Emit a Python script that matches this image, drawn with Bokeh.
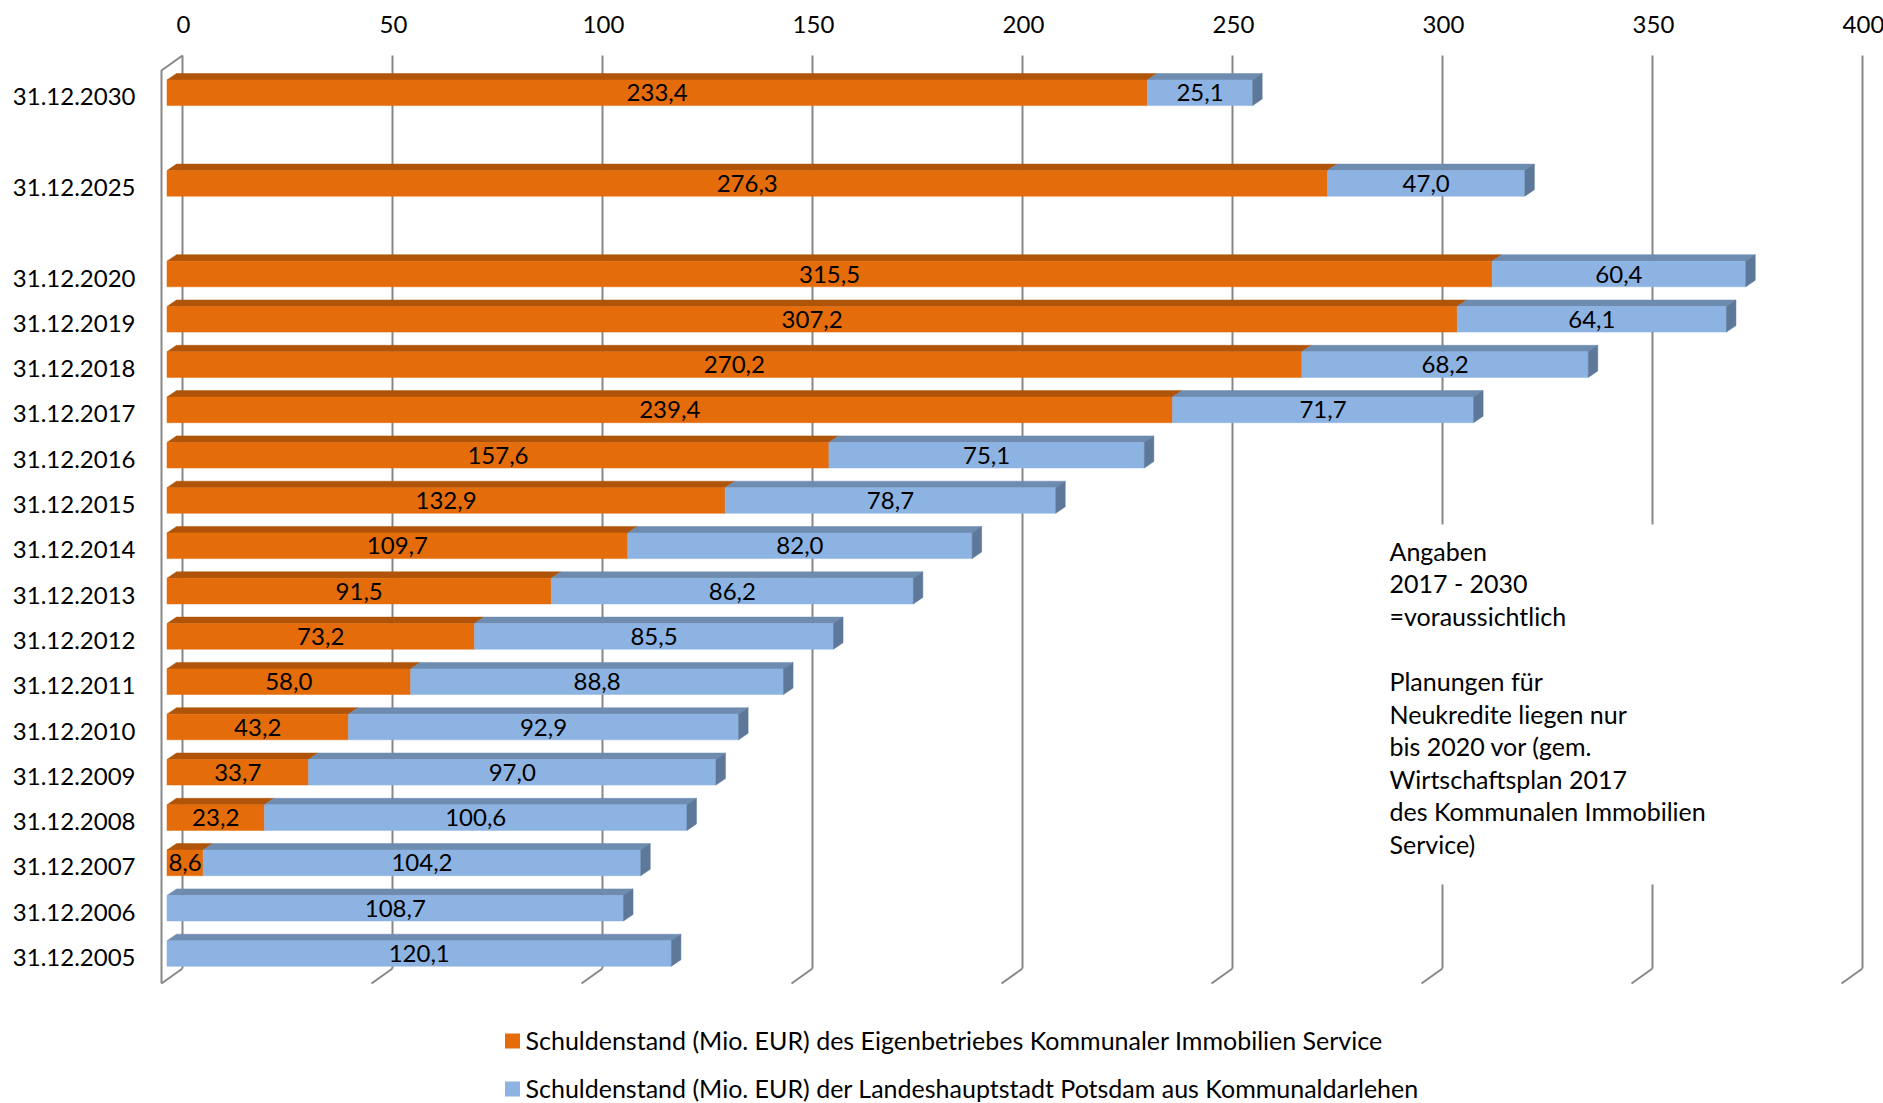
from bokeh.plotting import figure
from bokeh.models import Range1d
from bokeh.embed import file_html
from bokeh.resources import INLINE
from bokeh.core.properties import value

# ---------------- data ----------------
dates = ["31.12.2005", "31.12.2006", "31.12.2007", "31.12.2008", "31.12.2009",
         "31.12.2010", "31.12.2011", "31.12.2012", "31.12.2013", "31.12.2014",
         "31.12.2015", "31.12.2016", "31.12.2017", "31.12.2018", "31.12.2019",
         "31.12.2020", "31.12.2025", "31.12.2030"]
eigenbetrieb = [0.0, 0.0, 8.6, 23.2, 33.7, 43.2, 58.0, 73.2, 91.5, 109.7,
                132.9, 157.6, 239.4, 270.2, 307.2, 315.5, 276.3, 233.4]
kommunal = [120.1, 108.7, 104.2, 100.6, 97.0, 92.9, 88.8, 85.5, 86.2, 82.0,
            78.7, 75.1, 71.7, 68.2, 64.1, 60.4, 47.0, 25.1]
# category order from bottom to top, with empty slots as in the original
rows = dates[:16] + [None, "31.12.2025", None, "31.12.2030"]
x_ticks = [0, 50, 100, 150, 200, 250, 300, 350, 400]
x_tick_labels = ["0", "50", "100", "150", "200", "250", "300", "350", "400"]
legend_labels = ["Schuldenstand (Mio. EUR) des Eigenbetriebes Kommunaler Immobilien Service",
                 "Schuldenstand (Mio. EUR) der Landeshauptstadt Potsdam aus Kommunaldarlehen"]
note_lines = ["Angaben", "2017 - 2030", "=voraussichtlich", "",
              "Planungen für", "Neukredite liegen nur", "bis 2020 vor (gem.",
              "Wirtschaftsplan 2017", "des Kommunalen Immobilien", "Service)"]

# ---------------- styling / geometry (pixels) ----------------
W, H = 1883, 1103
PX = 4.2            # pixels per value unit
X0 = 166.5          # x of value 0 on the bar front plane
SLOT = 45.3         # pixels per category slot
S0 = 958.0          # y (from top) of slot 0 label centre
FONT = value("Lato")
FS_NUM = "24px"
FS_TXT = "25px"
ORANGE, ORANGE_TOP = "#E46C0A", "#AF5409"
BLUE, BLUE_TOP, BLUE_SIDE = "#8DB3E2", "#6E8BB0", "#5D7899"
GRID = "#878787"


def ux(px):
    """horizontal pixel distance -> value units"""
    return px / PX


def vx(px):
    """absolute x pixel -> value coordinate"""
    return (px - X0) / PX


def uy(px):
    """vertical pixel distance -> slot units"""
    return px / SLOT


def vy(py):
    """absolute y pixel (from top) -> slot coordinate"""
    return (S0 - py) / SLOT


p = figure(width=W, height=H,
           x_range=Range1d(vx(0), vx(W)),
           y_range=Range1d(vy(H), vy(0)),
           output_backend="svg", toolbar_location=None,
           x_axis_location=None, y_axis_location=None,
           min_border=0, outline_line_color=None,
           background_fill_color="white", border_fill_color="white")
p.xgrid.visible = False
p.ygrid.visible = False

# 3D geometry
back_dx = ux(15.5)       # back wall offset from bar front plane
wall_top = vy(55)
wall_bottom = vy(968)
diag_dx, diag_dy = ux(21), uy(15)

# back-wall grid lines
gx = [t + back_dx for t in x_ticks]
p.segment(x0=gx, y0=[wall_top] * len(gx), x1=gx, y1=[wall_bottom] * len(gx),
          line_color=GRID, line_width=2)
# floor diagonals
p.segment(x0=gx, y0=[wall_bottom] * len(gx),
          x1=[g - diag_dx for g in gx], y1=[wall_bottom - diag_dy] * len(gx),
          line_color=GRID, line_width=2)
# left side wall edge
p.line(x=[gx[0], gx[0] - diag_dx, gx[0] - diag_dx],
       y=[wall_top, wall_top - diag_dy, wall_bottom - diag_dy],
       line_color=GRID, line_width=2)

# white text box hiding the grid behind the note
p.quad(left=[vx(1378)], right=[vx(1760)], bottom=[vy(884)], top=[vy(524)],
       fill_color="white", line_color=None)

# ---------------- bars ----------------
bdx, bdy = ux(9.5), uy(6.5)
half = uy(12.8)
yc = [rows.index(d) + uy(5) for d in dates]

series = [
    ([0.0] * len(dates), eigenbetrieb, ORANGE, ORANGE_TOP),
    (eigenbetrieb, kommunal, BLUE, BLUE_TOP),
]
lab_x, lab_y, lab_t = [], [], []
for starts, vals, col, topcol in series:
    L, R, B, T, txs, tys = [], [], [], [], [], []
    for s0, v, c in zip(starts, vals, yc):
        if v <= 0:
            continue
        l, r = s0, s0 + v
        b, t = c - half, c + half
        L.append(l); R.append(r); B.append(b); T.append(t)
        txs.append([l, r, r + bdx, l + bdx])
        tys.append([t, t, t + bdy, t + bdy])
        lab_x.append((l + r) / 2)
        lab_y.append(c)
        lab_t.append(f"{v:.1f}".replace(".", ","))
    p.patches(xs=txs, ys=tys, fill_color=topcol, line_color=topcol, line_width=0.5)
    p.quad(left=L, right=R, bottom=B, top=T, fill_color=col, line_color=col, line_width=0.5)

# right side faces at the end of each stacked bar
sxs, sys_ = [], []
for o, k, c in zip(eigenbetrieb, kommunal, yc):
    e = o + k
    b, t = c - half, c + half
    sxs.append([e, e, e + bdx, e + bdx])
    sys_.append([b, t, t + bdy, b + bdy])
p.patches(xs=sxs, ys=sys_, fill_color=BLUE_SIDE, line_color=BLUE_SIDE, line_width=0.5)

# data labels
p.text(x=lab_x, y=lab_y, text=lab_t, text_font=FONT, text_font_size=FS_NUM,
       text_align="center", text_baseline="middle", text_color="black")

# category labels
p.text(x=[vx(135)] * len(dates), y=[rows.index(d) + uy(1) for d in dates], text=dates,
       text_font=FONT, text_font_size=FS_NUM, text_align="right", text_baseline="middle",
       text_color="black")

# top value-axis labels
p.text(x=[g + ux(1) for g in gx], y=[vy(24)] * len(gx), text=x_tick_labels,
       text_font=FONT, text_font_size=FS_NUM, text_align="center", text_baseline="middle",
       text_color="black")

# note
note_y = [vy(550 + 32.6 * i) for i in range(len(note_lines))]
p.text(x=[vx(1389)] * len(note_lines), y=note_y, text=note_lines, text_font=FONT,
       text_font_size=FS_TXT, text_align="left", text_baseline="middle", text_color="black")

# legend
leg_y = [vy(1040.5), vy(1088.5)]
p.rect(x=[vx(512)] * 2, y=leg_y, width=15, height=15, width_units="screen",
       height_units="screen", fill_color=[ORANGE, BLUE], line_color=None)
p.text(x=[vx(525)] * 2, y=[y + uy(1) for y in leg_y], text=legend_labels, text_font=FONT,
       text_font_size=FS_TXT, text_align="left", text_baseline="middle", text_color="black")

open("out.html", "w").write(file_html(p, INLINE))
